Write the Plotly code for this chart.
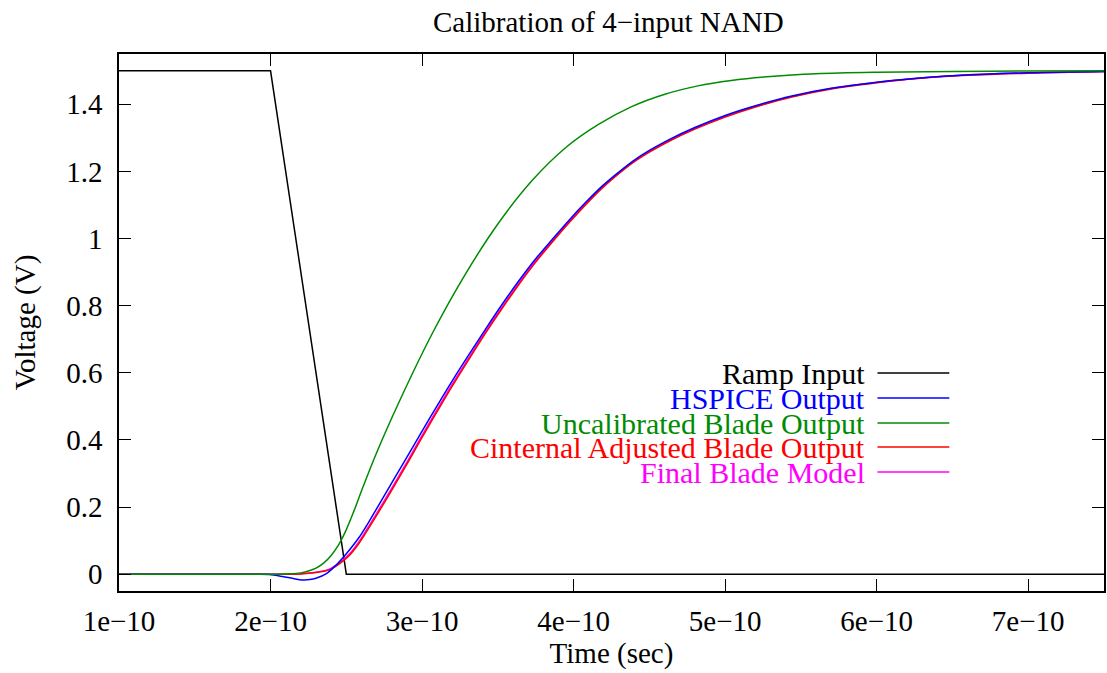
import plotly.graph_objects as go

# ---------------- data ----------------
title_text = "Calibration of 4\u2212input NAND"
x_title = "Time (sec)"
y_title = "Voltage (V)"

x_tick_vals = [1e-10, 2e-10, 3e-10, 4e-10, 5e-10, 6e-10, 7e-10]
x_tick_text = ["1e\u221210", "2e\u221210", "3e\u221210", "4e\u221210", "5e\u221210", "6e\u221210", "7e\u221210"]
y_tick_vals = [0, 0.2, 0.4, 0.6, 0.8, 1.0, 1.2, 1.4]
y_tick_text = ["0", "0.2", "0.4", "0.6", "0.8", "1", "1.2", "1.4"]

series_names = ["Ramp Input", "HSPICE Output", "Uncalibrated Blade Output",
                "Cinternal Adjusted Blade Output", "Final Blade Model"]
series_colors = ["#000000", "#0000ff", "#008c00", "#ff0000", "#ff00ff"]

ramp_t = [1.0e-10, 2.0e-10, 2.5e-10, 7.5e-10]
ramp_v = [1.5, 1.5, 0.0, 0.0]

hspice_t = [1.0e-10, 1.5e-10, 1.9e-10, 1.99e-10, 2.08e-10, 2.15e-10, 2.21e-10, 2.26e-10, 2.30e-10,
            2.366e-10, 2.43e-10, 2.50e-10, 2.585e-10, 2.65e-10, 2.717e-10, 2.80e-10, 2.87e-10,
            3.0e-10, 3.09e-10, 3.2e-10, 3.31e-10, 3.42e-10, 3.53e-10, 3.64e-10, 3.75e-10,
            3.86e-10, 3.97e-10, 4.08e-10, 4.19e-10, 4.30e-10, 4.41e-10, 4.52e-10, 4.63e-10,
            4.8e-10, 5.0e-10, 5.2e-10, 5.44e-10, 5.7e-10, 6.0e-10, 6.25e-10, 6.53e-10,
            7.0e-10, 7.5e-10]
hspice_v = [0.0, 0.0, 0.0, -0.001, -0.007, -0.013, -0.017, -0.016, -0.012,
            0.001, 0.026, 0.061, 0.11, 0.157, 0.208, 0.272, 0.326,
            0.426, 0.495, 0.577, 0.655, 0.731, 0.805, 0.875, 0.940,
            0.998, 1.055, 1.108, 1.157, 1.199, 1.237, 1.268, 1.295,
            1.331, 1.367, 1.396, 1.425, 1.448, 1.466, 1.477, 1.486,
            1.494, 1.498]

uncal_t = [1.0e-10, 1.6e-10, 1.9e-10, 2.0e-10, 2.1e-10, 2.2e-10, 2.26e-10, 2.3e-10, 2.35e-10,
           2.4e-10, 2.45e-10, 2.5e-10, 2.55e-10, 2.6e-10, 2.7e-10, 2.849e-10, 3.068e-10,
           3.287e-10, 3.507e-10, 3.726e-10, 3.945e-10, 4.164e-10, 4.383e-10, 4.602e-10, 4.82e-10,
           5.04e-10, 5.3e-10, 5.6e-10, 6.0e-10, 6.5e-10, 7.0e-10, 7.5e-10]
uncal_v = [0.0, 0.0, 0.0, 0.0, 0.001, 0.004, 0.011, 0.018, 0.033,
           0.056, 0.088, 0.133, 0.188, 0.248, 0.362, 0.514, 0.718,
           0.895, 1.048, 1.173, 1.270, 1.340, 1.393, 1.430, 1.455,
           1.471, 1.483, 1.491, 1.4955, 1.498, 1.4993, 1.4998]

cint_t = [1.0e-10, 1.6e-10, 2.0e-10, 2.15e-10, 2.19e-10, 2.25e-10, 2.30e-10, 2.35e-10, 2.388e-10,
          2.454e-10, 2.52e-10, 2.585e-10, 2.65e-10, 2.74e-10, 2.81e-10, 2.90e-10, 3.0e-10,
          3.1e-10, 3.2e-10, 3.31e-10, 3.42e-10, 3.53e-10, 3.64e-10, 3.75e-10, 3.86e-10,
          3.97e-10, 4.08e-10, 4.19e-10, 4.30e-10, 4.41e-10, 4.52e-10, 4.63e-10, 4.8e-10,
          5.0e-10, 5.2e-10, 5.44e-10, 5.7e-10, 6.0e-10, 6.25e-10, 6.53e-10, 7.0e-10, 7.5e-10]
cint_v = [0.0, 0.0, 0.0, 0.0, 0.001, 0.003, 0.005, 0.009, 0.013,
          0.031, 0.056, 0.093, 0.139, 0.205, 0.258, 0.328, 0.408,
          0.485, 0.561, 0.641, 0.719, 0.793, 0.864, 0.930, 0.990,
          1.047, 1.101, 1.151, 1.194, 1.232, 1.263, 1.290, 1.326,
          1.362, 1.392, 1.422, 1.446, 1.464, 1.476, 1.485, 1.493, 1.498]

final_t = [1.0e-10, 1.6e-10, 2.0e-10, 2.14e-10, 2.19e-10, 2.25e-10, 2.30e-10, 2.35e-10, 2.388e-10,
           2.454e-10, 2.52e-10, 2.585e-10, 2.65e-10, 2.74e-10, 2.81e-10, 2.90e-10, 3.0e-10,
           3.1e-10, 3.2e-10, 3.31e-10, 3.42e-10, 3.53e-10, 3.64e-10, 3.75e-10, 3.86e-10,
           3.97e-10, 4.08e-10, 4.19e-10, 4.30e-10, 4.41e-10, 4.52e-10, 4.63e-10, 4.8e-10,
           5.0e-10, 5.2e-10, 5.44e-10, 5.7e-10, 6.0e-10, 6.25e-10, 6.53e-10, 7.0e-10, 7.5e-10]
final_v = [0.0, 0.0, 0.0, 0.0, 0.001, 0.003, 0.006, 0.010, 0.015,
           0.034, 0.060, 0.098, 0.144, 0.211, 0.264, 0.334, 0.414,
           0.491, 0.567, 0.646, 0.724, 0.797, 0.868, 0.934, 0.993,
           1.050, 1.104, 1.153, 1.196, 1.234, 1.265, 1.292, 1.328,
           1.364, 1.394, 1.423, 1.447, 1.465, 1.477, 1.486, 1.494, 1.498]

x_range = [1e-10, 7.5e-10]
y_range = [-0.05, 1.55]

# ---------------- figure ----------------
FONT = "Liberation Serif, Times New Roman, serif"
FS = 29
LEG_FS = 30
W, H = 1107, 673
ML, MR, MT, MB = 119, 1, 54, 82
PW = W - ML - MR
PH = H - MT - MB

fig = go.Figure()

traces = [
    (ramp_t, ramp_v, 0, "linear"),
    (final_t, final_v, 4, "spline"),
    (cint_t, cint_v, 3, "spline"),
    (hspice_t, hspice_v, 1, "spline"),
    (uncal_t, uncal_v, 2, "spline"),
]
for t, v, idx, shape in traces:
    line = dict(color=series_colors[idx], width=1.5, shape=shape)
    if shape == "spline":
        line["smoothing"] = 1.0
    fig.add_trace(go.Scatter(x=t, y=v, mode="lines", name=series_names[idx],
                             line=line, showlegend=False, hoverinfo="skip"))

axis_common = dict(
    showgrid=False, zeroline=False, showline=True, linecolor="black", linewidth=1.5,
    mirror="ticks", ticks="inside", ticklen=12, tickwidth=1.3, tickcolor="black",
    tickfont=dict(family=FONT, size=FS, color="black"),
)

fig.update_xaxes(range=x_range, tickmode="array", tickvals=x_tick_vals, ticktext=x_tick_text,
                 title=dict(text=x_title, font=dict(family=FONT, size=FS, color="black"), standoff=6),
                 ticklabelstandoff=3,
                 **axis_common)
fig.update_yaxes(range=y_range, tickmode="array", tickvals=y_tick_vals, ticktext=y_tick_text,
                 title=dict(text=y_title, font=dict(family=FONT, size=FS, color="black"), standoff=22),
                 ticklabelstandoff=9,
                 **axis_common)

# Legend drawn gnuplot-style: right-aligned text with sample line on the right
leg_text_right = 869
leg_line_x0, leg_line_x1 = 879, 951
leg_row_y = [373, 398, 423, 447, 472]

def px_to_paper_x(px):
    return (px - ML) / PW

def px_to_paper_y(py):
    return (H - MB - py) / PH

annotations = [dict(text=title_text, xref="paper", yref="paper", x=0.497, y=px_to_paper_y(22),
                    xanchor="center", yanchor="middle", showarrow=False,
                    font=dict(family=FONT, size=FS, color="black"))]
shapes = []
for i, name in enumerate(series_names):
    yp = px_to_paper_y(leg_row_y[i])
    annotations.append(dict(text=name, xref="paper", yref="paper",
                            x=px_to_paper_x(leg_text_right), y=yp,
                            xanchor="right", yanchor="middle", showarrow=False,
                            font=dict(family=FONT, size=LEG_FS, color=series_colors[i])))
    shapes.append(dict(type="line", xref="paper", yref="paper",
                       x0=px_to_paper_x(leg_line_x0), x1=px_to_paper_x(leg_line_x1),
                       y0=yp, y1=yp, line=dict(color=series_colors[i], width=1.5)))

fig.update_layout(
    width=W, height=H,
    margin=dict(l=ML, r=MR, t=MT, b=MB, pad=0),
    paper_bgcolor="white", plot_bgcolor="white",
    showlegend=False,
    annotations=annotations, shapes=shapes,
    font=dict(family=FONT, size=FS, color="black"),
)

fig.write_html("out.html")
